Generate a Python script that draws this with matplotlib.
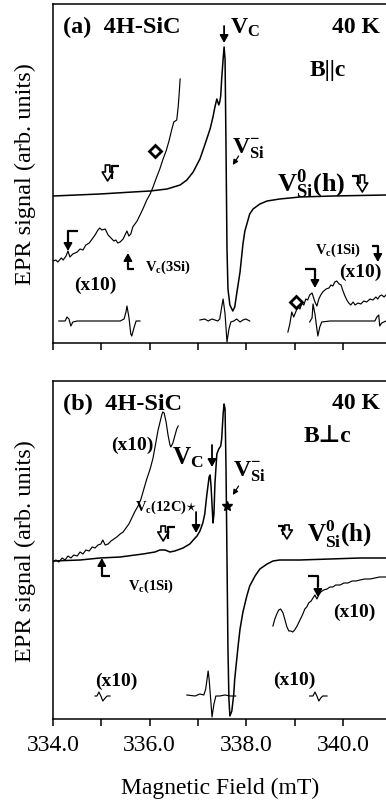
import matplotlib
matplotlib.use("Agg")
import matplotlib.pyplot as plt

plt.rcParams['font.family'] = ['Liberation Serif', 'DejaVu Serif']
plt.rcParams['mathtext.fontset'] = 'custom'
plt.rcParams['mathtext.rm'] = 'Liberation Serif'
plt.rcParams['mathtext.it'] = 'Liberation Serif:italic'
plt.rcParams['mathtext.bf'] = 'Liberation Serif:bold'

# ---------------- Panel (a): B || c ----------------
a_main_B = [334.00, 334.97, 335.65, 336.01, 336.36, 336.63, 336.77, 336.90, 337.04, 337.14,
            337.25, 337.31, 337.35, 337.39, 337.43, 337.45, 337.47, 337.49, 337.52, 337.54,
            337.56, 337.58, 337.60, 337.62, 337.66, 337.72, 337.76, 337.80, 337.87, 337.93,
            337.97, 338.07, 338.14, 338.28, 338.43, 338.69, 339.11, 339.79, 340.89]
a_main_S = [147, 149, 151, 152, 154, 158, 163, 171, 184, 198,
            214, 226, 236, 244, 238, 241, 247, 264, 284, 296,
            284, 194, 94, 54, 38, 32, 36, 49, 71, 99,
            112, 129, 134, 139, 142, 144, 146, 147, 148]

a_x10L_B = [334.00, 334.06, 334.10, 334.17, 334.21, 334.27, 334.31, 334.35, 334.41, 334.50,
            334.56, 334.62, 334.68, 334.75, 334.81, 334.87, 334.93, 334.97, 335.01, 335.08,
            335.14, 335.20, 335.26, 335.30, 335.34, 335.39, 335.45, 335.49, 335.53, 335.57,
            335.61, 335.65, 335.74, 335.80, 335.86, 335.94, 336.01, 336.07, 336.13, 336.21,
            336.27, 336.34, 336.40, 336.46, 336.50, 336.56, 336.59, 336.61, 336.63]
a_x10L_S = [82, 83, 81, 85, 83, 87, 92, 86, 89, 91,
            94, 93, 98, 100, 104, 108, 113, 115, 113, 114,
            108, 105, 102, 103, 100, 101, 104, 108, 112, 107,
            109, 116, 122, 128, 134, 143, 149, 156, 164, 174,
            183, 192, 202, 214, 221, 223, 236, 249, 264]

a_derL_B = [334.12, 334.25, 334.29, 334.33, 334.37, 334.41, 334.50, 334.97, 335.39, 335.47,
            335.51, 335.53, 335.57, 335.61, 335.63, 335.68, 335.72, 335.80]
a_derL_S = [22, 22, 26, 24, 17, 21, 22, 22, 22, 24,
            31, 37, 26, 9, 7, 16, 22, 22]

a_derC_B = [337.04, 337.14, 337.21, 337.29, 337.41, 337.45, 337.49, 337.52, 337.56, 337.60,
            337.64, 337.68, 337.74, 337.80, 337.87, 337.93, 337.99, 338.07]
a_derC_S = [23, 24, 22, 24, 22, 24, 36, 44, 29, 1,
            14, 21, 22, 24, 21, 23, 24, 22]

a_derR_B = [339.31, 339.36, 339.38, 339.42, 339.46, 339.48, 339.52, 339.56, 339.73, 340.35,
            340.66, 340.70, 340.74, 340.76, 340.80, 340.89]
a_derR_S = [21, 25, 39, 29, 14, 7, 16, 21, 22, 22,
            22, 26, 28, 17, 20, 22]

a_x10R_B = [338.86, 338.90, 338.94, 338.98, 339.03, 339.07, 339.11, 339.15, 339.19, 339.23,
            339.27, 339.31, 339.36, 339.38, 339.42, 339.46, 339.50, 339.54, 339.58, 339.65,
            339.71, 339.75, 339.79, 339.83, 339.87, 339.92, 339.96, 340.00, 340.04, 340.08,
            340.12, 340.16, 340.21, 340.25, 340.31, 340.37, 340.43, 340.49, 340.56, 340.62,
            340.68, 340.72, 340.76, 340.80, 340.85, 340.89]
a_x10R_S = [11, 19, 31, 26, 32, 36, 34, 40, 38, 44,
            43, 48, 50, 47, 41, 37, 44, 48, 51, 54,
            55, 58, 57, 61, 62, 59, 58, 52, 47, 43,
            40, 38, 41, 38, 40, 39, 42, 41, 44, 43,
            46, 44, 47, 48, 46, 48]

# ---------------- Panel (b): B perp c ----------------
b_main_B = [334.00, 334.56, 334.97, 335.39, 335.86, 336.11, 336.21, 336.32, 336.42, 336.52,
            336.69, 336.83, 336.94, 336.98, 337.04, 337.10, 337.14, 337.18, 337.23, 337.25,
            337.27, 337.29, 337.31, 337.33, 337.35, 337.37, 337.39, 337.43, 337.47, 337.49,
            337.52, 337.54, 337.56, 337.58, 337.60, 337.62, 337.64, 337.66, 337.70, 337.74,
            337.76, 337.83, 337.87, 337.93, 338.01, 338.07, 338.18, 338.28, 338.43, 338.55,
            338.69, 339.11, 339.73, 340.35, 340.89]
b_main_S = [158, 159, 161, 162, 165, 167, 169, 169, 167, 168,
            171, 175, 181, 183, 188, 196, 205, 223, 242, 244,
            233, 215, 196, 205, 235, 250, 265, 270, 273, 280,
            305, 315, 310, 250, 160, 70, 20, 3, 8, 25,
            40, 73, 90, 107, 123, 133, 143, 150, 155, 158,
            159, 159, 160, 161, 161]

b_x10L_B = [334.00, 334.06, 334.12, 334.19, 334.25, 334.31, 334.37, 334.43, 334.50, 334.56,
            334.62, 334.68, 334.75, 334.81, 334.87, 334.93, 334.99, 335.03, 335.08, 335.14,
            335.20, 335.26, 335.32, 335.39, 335.45, 335.51, 335.57, 335.63, 335.70, 335.76,
            335.82, 335.88, 335.94, 336.01, 336.07, 336.13, 336.17, 336.21, 336.25, 336.27,
            336.30, 336.34, 336.38, 336.42, 336.44, 336.48, 336.52, 336.56, 336.59]
b_x10L_S = [157, 159, 157, 161, 159, 163, 161, 164, 163, 167,
            165, 169, 168, 172, 171, 174, 175, 179, 174, 175,
            178, 180, 182, 185, 187, 191, 195, 201, 208, 213,
            220, 230, 240, 250, 261, 277, 288, 296, 304, 307,
            306, 297, 284, 274, 272, 276, 283, 290, 293]

b_derC_B = [336.77, 336.94, 337.04, 337.12, 337.16, 337.21, 337.23, 337.27, 337.29, 337.33,
            337.37, 337.45, 337.56, 337.66, 337.78]
b_derC_S = [24, 23, 25, 24, 30, 48, 40, 15, 2, 15,
            23, 23, 24, 23, 23]

b_derL_B = [334.87, 334.91, 334.95, 334.99, 335.03, 335.08, 335.12, 335.18]
b_derL_S = [23, 23, 27, 23, 18, 21, 23, 23]

b_derR_B = [339.31, 339.38, 339.42, 339.46, 339.50, 339.54, 339.58, 339.67]
b_derR_S = [23, 23, 27, 23, 18, 21, 23, 23]

b_x10R_B = [338.55, 338.59, 338.63, 338.67, 338.71, 338.76, 338.80, 338.84, 338.88, 338.92,
            338.96, 339.00, 339.05, 339.09, 339.13, 339.17, 339.21, 339.25, 339.29, 339.34,
            339.38, 339.42, 339.46, 339.50, 339.54, 339.60, 339.67, 339.73, 339.79, 339.85,
            339.94, 340.02, 340.10, 340.19, 340.27, 340.35, 340.45, 340.56, 340.66, 340.76,
            340.89]
b_x10R_S = [93, 100, 105, 109, 110, 106, 99, 92, 88, 88,
            87, 89, 93, 97, 101, 105, 110, 112, 116, 118,
            121, 124, 120, 124, 127, 129, 130, 132, 132, 134,
            134, 136, 136, 138, 138, 139, 140, 140, 141, 142,
            142]

x_ticks = [334.0, 335.0, 336.0, 337.0, 338.0, 339.0, 340.0]
x_tick_labels = ['334.0', '', '336.0', '', '338.0', '', '340.0']
x_label = 'Magnetic Field (mT)'
y_label = 'EPR signal (arb. units)'

W, H = 386, 804
fig = plt.figure(figsize=(W / 100, H / 100), dpi=100)

def box(l, t, r, b):
    return [l / W, 1 - b / H, (r - l) / W, (b - t) / H]

axA = fig.add_axes(box(53, 5, 386, 344))
axB = fig.add_axes(box(53, 382, 386, 720))

for ax, ytop in ((axA, 339), (axB, 338)):
    ax.set_xlim(334.0, 340.89)
    ax.set_ylim(0, ytop)
    ax.spines['right'].set_visible(False)
    for s in ('left', 'top', 'bottom'):
        ax.spines[s].set_linewidth(1.1)
    ax.set_yticks([])
    ax.set_xticks(x_ticks)
    ax.tick_params(axis='x', direction='out', length=5, width=1.1, pad=6, labelsize=17)

axA.set_xticklabels([''] * len(x_ticks))
axB.set_xticklabels(x_tick_labels)

lw_main = 1.1
lw_small = 0.85
k = 'black'
axA.plot(a_main_B, a_main_S, color=k, lw=lw_main)
axA.plot(a_x10L_B, a_x10L_S, color=k, lw=lw_small)
axA.plot(a_derL_B, a_derL_S, color=k, lw=lw_small)
axA.plot(a_derC_B, a_derC_S, color=k, lw=lw_small)
axA.plot(a_derR_B, a_derR_S, color=k, lw=lw_small)
axA.plot(a_x10R_B, a_x10R_S, color=k, lw=lw_small)

axB.plot(b_main_B, b_main_S, color=k, lw=lw_main)
axB.plot(b_x10L_B, b_x10L_S, color=k, lw=lw_small)
axB.plot(b_derC_B, b_derC_S, color=k, lw=lw_small)
axB.plot(b_derL_B, b_derL_S, color=k, lw=lw_small)
axB.plot(b_derR_B, b_derR_S, color=k, lw=lw_small)
axB.plot(b_x10R_B, b_x10R_S, color=k, lw=lw_small)

def arrow(ax, x0, y0, x1, y1, lw=1.3, hw=0.25, hl=0.45):
    ax.annotate('', xy=(x1, y1), xytext=(x0, y0),
                arrowprops=dict(arrowstyle=f'-|>,head_width={hw},head_length={hl}',
                                color=k, lw=lw, shrinkA=0, shrinkB=0))

def hook(ax, xs, ys, lw=1.6):
    ax.plot(xs, ys, color=k, lw=lw, solid_capstyle='butt')

def hollow(ax, x, y0, y1):
    ax.annotate('', xy=(x, y1), xytext=(x, y0),
                arrowprops=dict(arrowstyle='simple,head_width=0.6,head_length=0.5,tail_width=0.25',
                                fc='white', ec=k, lw=1.2, shrinkA=0, shrinkB=0,
                                mutation_scale=13))

bold = dict(fontweight='bold')
VC = r'V$_{\mathbf{C}}$'
Vc = r'V$_{\mathbf{c}}$'
VSim = r'V$_{\mathbf{Si}}^{\mathbf{-}}$'
VSi0 = r'V$_{\mathbf{Si}}^{\mathbf{0}}$(h)'

# Panel (a) annotations
axA.text(334.21, 317, '(a)  4H-SiC', fontsize=17.5, ha='left', va='center', **bold)
axA.text(340.76, 317, '40 K', fontsize=17, ha='right', va='center', **bold)
axA.text(339.68, 274, 'B||c', fontsize=17, ha='center', va='center', **bold)
arrow(axA, 337.54, 317, 337.54, 300)
axA.text(337.66, 316, VC, fontsize=17, ha='left', va='center', **bold)
axA.text(337.70, 195, VSim, fontsize=17, ha='left', va='center', **bold)
arrow(axA, 337.84, 187, 337.72, 178, lw=0.9, hw=0.15, hl=0.3)
axA.text(338.63, 160, VSi0, fontsize=19, ha='left', va='center', **bold)
hook(axA, [340.18, 340.31, 340.31], [167, 167, 157])
hollow(axA, 340.40, 168, 151)
hollow(axA, 335.13, 178, 162)
hook(axA, [335.23, 335.23, 335.37], [164, 177, 177])
axA.plot([336.11], [192], marker='D', ms=6, mfc='white', mec=k, mew=2)
axA.plot([339.03], [41], marker='D', ms=6, mfc='white', mec=k, mew=2)
hook(axA, [334.52, 334.31, 334.31], [112, 112, 100])
arrow(axA, 334.31, 104, 334.31, 92)
hook(axA, [335.68, 335.55, 335.55], [74, 74, 80])
arrow(axA, 335.55, 78, 335.55, 90)
axA.text(335.90, 77, Vc + '(3Si)', fontsize=10.5, ha='left', va='center', **bold)
axA.text(334.87, 59, '(x10)', fontsize=14, ha='center', va='center', **bold)
axA.text(339.42, 94, Vc + '(1Si)', fontsize=10.5, ha='left', va='center', **bold)
hook(axA, [340.60, 340.72, 340.72], [97, 97, 88])
arrow(axA, 340.72, 92, 340.72, 81)
axA.text(340.35, 72, '(x10)', fontsize=14, ha='center', va='center', **bold)
hook(axA, [339.21, 339.42, 339.42], [74, 74, 64])
arrow(axA, 339.42, 68, 339.42, 55)

# Panel (b) annotations
axB.text(334.21, 316, '(b)  4H-SiC', fontsize=17.5, ha='left', va='center', **bold)
axB.text(340.76, 316, '40 K', fontsize=17, ha='right', va='center', **bold)
axB.text(339.67, 283, 'B\u22a5c', fontsize=17, ha='center', va='center',
         family=['Liberation Serif', 'DejaVu Sans'], **bold)
axB.text(335.65, 275, '(x10)', fontsize=14, ha='center', va='center', **bold)
axB.text(336.78, 262, VC, fontsize=18, ha='center', va='center', **bold)
arrow(axB, 337.29, 274, 337.29, 252)
axB.text(337.72, 248, VSim, fontsize=17, ha='left', va='center', **bold)
arrow(axB, 337.84, 233, 337.72, 224, lw=0.9, hw=0.15, hl=0.3)
axB.plot([337.60], [213], marker='*', ms=7, color=k)
axB.text(336.34, 213, Vc + r'(12C)$\star$', fontsize=10.5, ha='center', va='center', **bold)
arrow(axB, 336.96, 207, 336.96, 186)
hollow(axB, 336.28, 193, 178)
hook(axB, [336.38, 336.38, 336.52], [180, 192, 192])
hook(axB, [338.65, 338.75, 338.75], [193, 193, 184])
hollow(axB, 338.84, 194, 180)
axB.text(339.25, 186, VSi0, fontsize=18, ha='left', va='center', **bold)
hook(axB, [335.18, 335.01, 335.01], [143, 143, 152])
arrow(axB, 335.01, 150, 335.01, 161)
axB.text(335.55, 134, Vc + '(1Si)', fontsize=10.5, ha='left', va='center', **bold)
hook(axB, [339.27, 339.48, 339.48], [143, 143, 132])
arrow(axB, 339.48, 136, 339.48, 122)
axB.text(340.23, 108, '(x10)', fontsize=14, ha='center', va='center', **bold)
axB.text(335.30, 39, '(x10)', fontsize=14, ha='center', va='center', **bold)
axB.text(339.00, 40, '(x10)', fontsize=14, ha='center', va='center', **bold)

fig.text(25 / W, 1 - 174 / H, y_label, rotation=90, fontsize=17.5, ha='center', va='center')
fig.text(25 / W, 1 - 551 / H, y_label, rotation=90, fontsize=17.5, ha='center', va='center')
fig.text(220 / W, 1 - 788 / H, x_label, fontsize=17, ha='center', va='center')

fig.savefig('out.png', dpi=100)
